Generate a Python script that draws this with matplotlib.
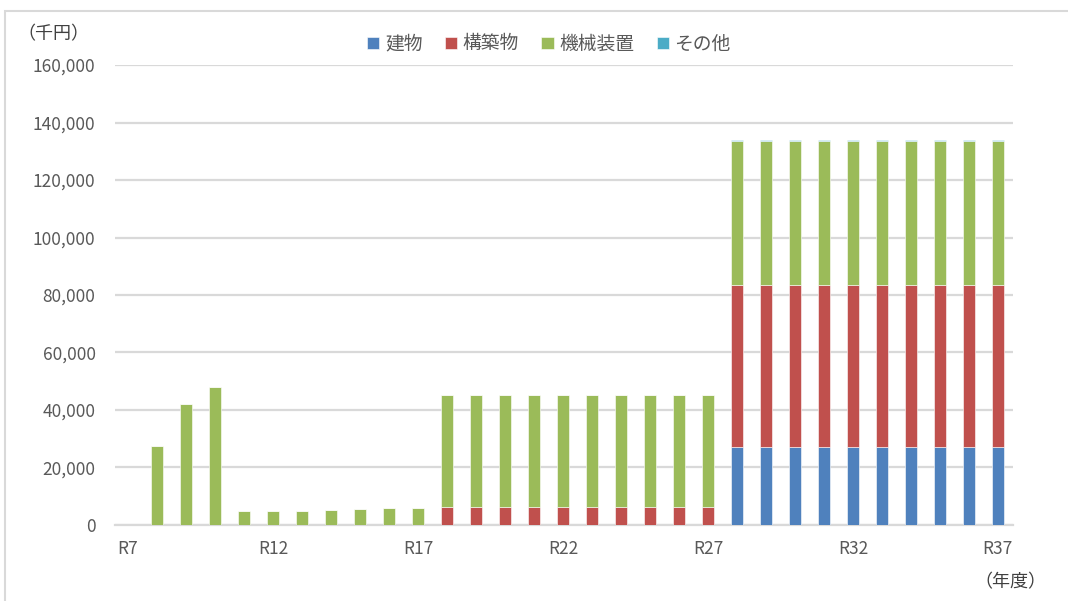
import matplotlib.pyplot as plt
from matplotlib.patches import Rectangle
import numpy as np

plt.rcParams['font.family'] = ['Noto Sans CJK JP', 'DejaVu Sans']

years = ["R7", "R8", "R9", "R10", "R11", "R12", "R13", "R14", "R15", "R16",
         "R17", "R18", "R19", "R20", "R21", "R22", "R23", "R24", "R25", "R26",
         "R27", "R28", "R29", "R30", "R31", "R32", "R33", "R34", "R35", "R36",
         "R37"]

# 千円
building = [0, 0, 0, 0, 0, 0, 0, 0, 0, 0,
            0, 0, 0, 0, 0, 0, 0, 0, 0, 0,
            0, 27200, 27200, 27200, 27200, 27200, 27200, 27200, 27200, 27200,
            27200]
structure = [0, 0, 0, 0, 0, 0, 0, 0, 0, 0,
             0, 6300, 6300, 6300, 6300, 6300, 6300, 6300, 6300, 6300,
             6300, 56300, 56300, 56300, 56300, 56300, 56300, 56300, 56300, 56300,
             56300]
machinery = [0, 27600, 42100, 48000, 4800, 4800, 4800, 5200, 5600, 5900,
             5900, 38800, 38800, 38800, 38800, 38800, 38800, 38800, 38800, 38800,
             38800, 50100, 50100, 50100, 50100, 50100, 50100, 50100, 50100, 50100,
             50100]
other = [0, 0, 0, 0, 0, 0, 0, 0, 0, 0,
         0, 0, 0, 0, 0, 0, 0, 0, 0, 0,
         0, 300, 300, 300, 300, 300, 300, 300, 300, 300,
         300]

series = [("建物", building, "#4F81BD"),
          ("構築物", structure, "#C0504D"),
          ("機械装置", machinery, "#9BBB59"),
          ("その他", other, "#4BACC6")]

fig = plt.figure(figsize=(10.68, 6.01), dpi=100)
ax = fig.add_axes([0.1077, 0.1265, 0.8408, 0.7653])

x = np.arange(len(years))
bottom = np.zeros(len(years))
for name, vals, color in series:
    vals = np.array(vals)
    ax.bar(x, vals, 0.41, bottom=bottom, color=color, label=name,
           edgecolor="white", linewidth=0.4, zorder=3)
    bottom += vals

ax.set_ylim(0, 160000)
ax.set_xlim(-0.45, len(years) - 0.48)
ax.set_yticks(np.arange(0, 160001, 20000))
ax.set_yticklabels([f"{v:,}" for v in range(0, 160001, 20000)])
ax.set_xticks(x[::5])
ax.set_xticklabels(years[::5])
ax.yaxis.grid(True, color="#D9D9D9", linewidth=1.6, zorder=0)
for s in ["top", "right", "left"]:
    ax.spines[s].set_visible(False)
ax.spines["bottom"].set_color("#D9D9D9")
ax.spines["bottom"].set_linewidth(1.6)
ax.tick_params(length=0, labelsize=12.5, colors="#595959")
ax.tick_params(axis="y", pad=14)
ax.tick_params(axis="x", pad=11)

fig.text(0.016, 0.943, "（千円）", fontsize=13, color="#404040", va="center")
fig.text(0.912, 0.032, "（年度）", fontsize=13, color="#404040", va="center")

fig.legend(loc="center", bbox_to_anchor=(0.514, 0.927), ncol=4, frameon=False,
           fontsize=13.5, handlelength=0.65, handleheight=0.65, handletextpad=0.3,
           columnspacing=1.2, labelcolor="#595959")

fig.patches.append(Rectangle((0.005, -0.1), 1.1, 1.082, transform=fig.transFigure,
                             fill=False, edgecolor="#D9D9D9", linewidth=1.5))

fig.savefig("out.png", dpi=100)
